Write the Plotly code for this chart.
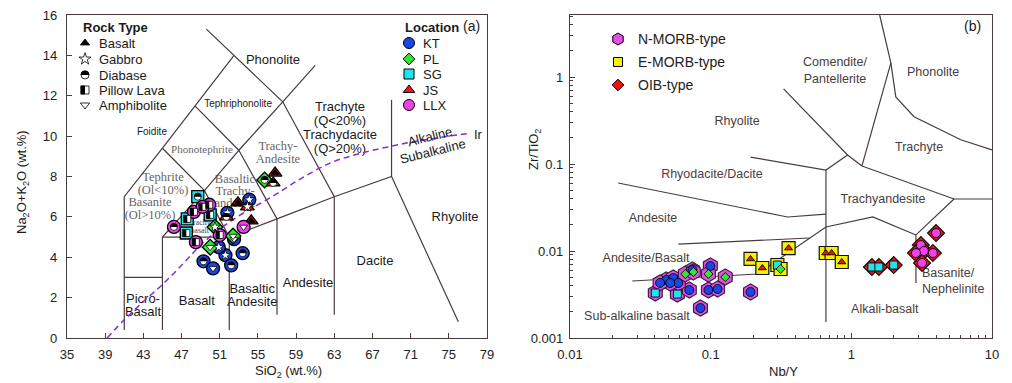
import plotly.graph_objects as go

W, H = 1012, 383
FONT = "Liberation Sans, Arial, sans-serif"
SERIF = "Liberation Serif, Times New Roman, serif"
LINE = "#4a3b3b"

# ================= (a) TAS diagram data =================
tas_loc = ["KT", "KT", "KT", "KT", "KT", "KT", "KT", "KT", "KT",
           "PL", "PL", "PL", "PL",
           "SG", "SG", "SG", "SG",
           "JS", "JS", "JS", "JS", "JS", "JS",
           "LLX", "LLX", "LLX", "LLX", "LLX", "LLX", "LLX"]
tas_sio2 = [54.1, 51.8, 52.5, 51.6, 53.4, 52.2, 49.3, 50.3, 50.9,
            55.7, 50.5, 52.4, 50.0,
            48.7, 50.0, 47.6, 47.5,
            56.8, 56.6, 52.9, 53.9, 51.7, 54.3,
            49.9, 48.3, 49.2, 46.2, 48.5, 51.0, 53.5]
tas_alk = [6.85, 6.2, 4.9, 4.1, 4.2, 3.6, 3.8, 3.45, 4.5,
           7.83, 5.5, 5.05, 4.5,
           7.0, 6.1, 5.9, 5.2,
           8.17, 7.68, 6.7, 6.5, 6.0, 5.8,
           6.6, 6.25, 6.5, 5.5, 4.75, 5.1, 5.5]
tas_rock = ["Gabbro", "Gabbro", "Amphibolite", "Gabbro", "Diabase", "Diabase", "Diabase", "Amphibolite", "Gabbro",
            "Diabase", "Gabbro", "Amphibolite", "Amphibolite",
            "Diabase", "Pillow Lava", "Pillow Lava", "Pillow Lava",
            "Basalt", "Diabase", "Basalt", "Gabbro", "Diabase", "Basalt",
            "Pillow Lava", "Pillow Lava", "Pillow Lava", "Diabase", "Pillow Lava", "Pillow Lava", "Amphibolite"]

# TAS field boundaries (SiO2, Na2O+K2O)
tas_boundaries = [
    [(41, 0.4), (41, 7), (45, 9.4), (48.4, 11.5), (52.5, 14)],
    [(49.6, 15.3), (52.5, 14), (57.6, 11.7), (63, 7), (63, 1.15)],
    [(41, 3), (45, 3)],
    [(45, 0.4), (45, 5), (49.4, 7.3), (45, 9.4)],
    [(45, 5), (52, 5), (52, 0.4)],
    [(49.4, 7.3), (52, 5), (57, 5.9), (57, 1.15)],
    [(57, 5.9), (63, 7), (69, 8), (76.0, 0.8)],
    [(48.4, 11.5), (53, 9.3), (57.6, 11.7)],
    [(49.4, 7.3), (53, 9.3), (57, 5.9)],
    [(57.6, 11.7), (61, 13.5)],
    [(69, 8), (69, 11.8)],
]
# Irvine & Baragar alkaline / subalkaline divide
ir_sio2 = [39.2, 41, 43, 45, 47, 49, 51, 53, 55, 57, 59, 61, 63, 65, 67, 69, 71, 73, 75, 77.3]
ir_alk = [0.0, 0.9, 1.8, 2.65, 3.6, 4.6, 5.4, 6.05, 6.6, 7.15, 7.75, 8.3, 8.75, 9.05, 9.3, 9.5, 9.7, 9.85, 10.0, 10.15]

# ================= (b) Winchester & Floyd data =================
wf_group = ["N-MORB-type"] * 18 + ["E-MORB-type"] * 8 + ["OIB-type"] * 9
wf_loc = ["SG", "SG", "KT", "KT", "KT", "KT", "KT", "KT", "KT", "KT", "KT", "KT", "KT", "KT",
          "PL", "PL", "PL", "PL",
          "JS", "JS", "JS", "SG", "PL", "JS", "JS", "JS",
          "SG", "SG", "SG", "LLX", "LLX", "LLX", "LLX", "LLX", "LLX"]
wf_nby = [0.0404, 0.058, 0.0705, 0.0483, 0.0542, 0.0589, 0.0516, 0.0437, 0.0741, 0.0995, 0.0964, 0.112, 0.192, 0.0846,
          0.127, 0.066, 0.0753, 0.0964,
          0.192, 0.233, 0.358, 0.298, 0.314, 0.658, 0.724, 0.855,
          1.40, 1.57, 2.00, 4.0, 3.12, 3.28, 2.88, 3.80, 3.18]
wf_zrti = [0.00329, 0.0032, 0.00356, 0.00464, 0.00489, 0.00429, 0.00429, 0.0043, 0.00605, 0.00673, 0.00356, 0.00366, 0.00338, 0.00221,
           0.00502, 0.00544, 0.00574, 0.00544,
           0.0081, 0.00638, 0.0108, 0.0069, 0.00621, 0.00948, 0.00948, 0.00747,
           0.00655, 0.00655, 0.0069, 0.0161, 0.0117, 0.0100, 0.00948, 0.00948, 0.00728]

wf_boundaries = [
    [(0.33, 0.73), (0.94, 0.127), (1.19, 0.095)],
    [(0.192, 0.120), (0.66, 0.0853), (0.94, 0.127)],
    [(1.59, 5.16), (1.91, 1.45), (2.07, 0.59), (2.79, 0.35), (6.0, 0.19), (10, 0.145)],
    [(1.91, 1.45), (1.19, 0.095)],
    [(1.19, 0.095), (5.37, 0.0396), (10, 0.0396)],
    [(5.37, 0.0396), (2.88, 0.0153), (2.88, 0.0043)],
    [(2.88, 0.0153), (1.42, 0.0246), (0.66, 0.0189), (0.215, 0.00544), (0.0277, 0.00452)],
    [(0.0589, 0.0120), (0.505, 0.0141)],
    [(0.022, 0.0605), (0.352, 0.0246), (0.66, 0.0266)],
    [(0.66, 0.0853), (0.66, 0.00153)],
]

# ================= styles =================
loc_order = ["SG", "KT", "PL", "JS", "LLX"]
loc_style = {"KT": ("circle", "#1a46e8", 13), "PL": ("diamond", "#33e633", 12),
             "SG": ("square", "#1ee6f0", 12), "JS": ("triangle-up", "#f01414", 12),
             "LLX": ("circle", "#f040f0", 13)}
loc_inner = {"KT": ("circle", "#1a46e8", 9), "PL": ("diamond", "#33e633", 7),
             "SG": ("square", "#1ee6f0", 8), "JS": ("triangle-up", "#f01414", 7),
             "LLX": ("circle", "#f040f0", 9)}
grp_style = {"N-MORB-type": ("hexagon", "#e64ee6", 16, "#3a2040"),
             "E-MORB-type": ("square", "#f7f000", 13, "#111111"),
             "OIB-type": ("diamond", "#ee1111", 13, "#111111")}
rock_style = {"Basalt": ("triangle-up", "black", "black"),
              "Gabbro": ("star", "white", "black"),
              "Diabase": ("circle", "white", "black"),
              "Pillow Lava": ("square", "white", "black"),
              "Amphibolite": ("triangle-down", "white", "black")}

fig = go.Figure()
shapes = []


def text_trace(xs, ys, texts, xa, ya, size, color, family, pos="middle center"):
    fig.add_trace(go.Scatter(x=xs, y=ys, text=texts, mode="text", textposition=pos,
                             textfont=dict(size=size, color=color, family=family),
                             xaxis=xa, yaxis=ya, hoverinfo="skip", showlegend=False,
                             cliponaxis=False))


def rock_markers(xs, ys, rocks, xa, ya, size, xref, yref):
    for rk, (sym, fill, edge) in rock_style.items():
        px = [x for x, r in zip(xs, rocks) if r == rk]
        py = [y for y, r in zip(ys, rocks) if r == rk]
        if not px:
            continue
        sz = size + 1 if rk in ("Gabbro",) else size
        fig.add_trace(go.Scatter(x=px, y=py, mode="markers", xaxis=xa, yaxis=ya,
                                 marker=dict(symbol=sym, size=sz, color=fill,
                                             line=dict(color=edge, width=0.8)),
                                 hoverinfo="skip", showlegend=False, cliponaxis=False))
        r = size / 2 + 0.4
        for x, y in zip(px, py):
            if rk == "Diabase":
                path = f"M{-r},0 C{-r},{1.333 * r} {r},{1.333 * r} {r},0 Z"
            elif rk == "Pillow Lava":
                path = f"M{-r},{-r} L0,{-r} L0,{r} L{-r},{r} Z"
            else:
                continue
            shapes.append(dict(type="path", xref=xref, yref=yref, xsizemode="pixel",
                               ysizemode="pixel", xanchor=x, yanchor=y, path=path,
                               fillcolor="black", line=dict(width=0), layer="above"))


# ---------- (a) region labels (drawn below markers) ----------
text_trace([56.58, 63.6, 63.6, 63.6, 63.6, 42.96, 42.96, 48.6, 54.4, 54.4, 60.25, 67.27, 75.65],
           [13.72, 11.39, 10.70, 10.0, 9.31, 1.88, 1.24, 1.78, 2.38, 1.73, 2.67, 3.76, 5.94],
           ["Phonolite", "Trachyte", "(Q<20%)", "Trachydacite", "(Q>20%)", "Picro-", "Basalt",
            "Basalt", "Basaltic", "Andesite", "Andesite", "Dacite", "Rhyolite"],
           "x", "y", 13, "#1a1a1a", FONT)
text_trace([52.92, 43.9], [11.59, 10.2], ["Tephriphonolite", "Foidite"], "x", "y", 10, "#1a1a1a", FONT)
text_trace([49.14], [9.31], ["Phonotephrite"], "x", "y", 11, "#666666", SERIF)
text_trace([57.1, 57.1, 45.06, 45.06, 43.7, 43.7, 52.6, 52.6, 52.6],
           [9.46, 8.82, 7.92, 7.28, 6.69, 6.04, 7.83, 7.23, 6.64],
           ["Trachy-", "Andesite", "Tephrite", "(Ol<10%)", "Basanite", "(Ol>10%)",
            "Basaltic", "Trachy-", "andesite"],
           "x", "y", 12.5, "#666666", SERIF)
text_trace([48.9, 48.9], [5.7, 5.3], ["Trachy", "basalt"], "x", "y", 8, "#444444", SERIF)

for seg in tas_boundaries:
    fig.add_trace(go.Scatter(x=[p[0] for p in seg], y=[p[1] for p in seg], mode="lines",
                             line=dict(color=LINE, width=1.2), xaxis="x", yaxis="y",
                             hoverinfo="skip", showlegend=False))
fig.add_trace(go.Scatter(x=ir_sio2, y=ir_alk, mode="lines", line=dict(color="#8a2ccf", width=1.5, dash="6px,4px"),
                         line_shape="spline", xaxis="x", yaxis="y", hoverinfo="skip", showlegend=False))

# ---------- (a) data ----------
for loc in loc_order:
    sym, col, sz = loc_style[loc]
    xs = [x for x, l in zip(tas_sio2, tas_loc) if l == loc]
    ys = [y for y, l in zip(tas_alk, tas_loc) if l == loc]
    fig.add_trace(go.Scatter(x=xs, y=ys, mode="markers", xaxis="x", yaxis="y", name=loc,
                             marker=dict(symbol=sym, size=sz, color=col, line=dict(color="black", width=1.3)),
                             showlegend=False))
rock_markers(tas_sio2, tas_alk, tas_rock, "x", "y", 7, "x", "y")

# ---------- (b) labels and boundaries ----------
text_trace([0.766, 3.81, 0.154, 3.03, 0.102, 1.68, 0.0389, 0.0347, 0.0299, 1.73],
           [1.16, 1.11, 0.304, 0.153, 0.0748, 0.0386, 0.0233, 0.0081, 0.00174, 0.0021],
           ["Comendite/<br>Pantellerite", "Phonolite", "Rhyolite", "Trachyte", "Rhyodacite/Dacite",
            "Trachyandesite", "Andesite", "Andesite/Basalt", "Sub-alkaline basalt", "Alkali-basalt"],
           "x2", "y2", 12.5, "#4a3c3c", FONT)
text_trace([3.18], [0.00445], ["Basanite/<br>Nephelinite"], "x2", "y2", 12.5, "#4a3c3c", FONT, pos="middle right")

for seg in wf_boundaries:
    fig.add_trace(go.Scatter(x=[p[0] for p in seg], y=[p[1] for p in seg], mode="lines",
                             line=dict(color=LINE, width=1.2), xaxis="x2", yaxis="y2",
                             hoverinfo="skip", showlegend=False))

for grp, (sym, col, sz, edge) in grp_style.items():
    xs = [x for x, g in zip(wf_nby, wf_group) if g == grp]
    ys = [y for y, g in zip(wf_zrti, wf_group) if g == grp]
    fig.add_trace(go.Scatter(x=xs, y=ys, mode="markers", xaxis="x2", yaxis="y2", name=grp,
                             marker=dict(symbol=sym, size=sz, color=col, line=dict(color=edge, width=1.2)),
                             showlegend=False))
for loc in loc_order:
    sym, col, sz = loc_inner[loc]
    xs = [x for x, l in zip(wf_nby, wf_loc) if l == loc]
    ys = [y for y, l in zip(wf_zrti, wf_loc) if l == loc]
    if xs:
        fig.add_trace(go.Scatter(x=xs, y=ys, mode="markers", xaxis="x2", yaxis="y2",
                                 marker=dict(symbol=sym, size=sz, color=col, line=dict(color="black", width=0.9)),
                                 showlegend=False, hoverinfo="skip"))

# ---------- legends (overlay pixel axis x3/y3) ----------
loc_names = ["KT", "PL", "SG", "JS", "LLX"]
loc_leg_y = [43, 59, 74, 90, 105]
for name, yy in zip(loc_names, loc_leg_y):
    sym, col, sz = loc_style[name]
    fig.add_trace(go.Scatter(x=[409], y=[yy], mode="markers", xaxis="x3", yaxis="y3",
                             marker=dict(symbol=sym, size=sz - 2 if sym != "diamond" else sz - 3,
                                         color=col, line=dict(color="black", width=1)),
                             showlegend=False, hoverinfo="skip"))
rock_names = ["Basalt", "Gabbro", "Diabase", "Pillow Lava", "Amphibolite"]
rock_leg_y = [43, 59, 75, 90, 105]
rock_markers([85] * 5, rock_leg_y, rock_names, "x3", "y3", 8, "x3", "y3")

grp_names = ["N-MORB-type", "E-MORB-type", "OIB-type"]
grp_leg_y = [39, 62, 85]
for name, yy in zip(grp_names, grp_leg_y):
    sym, col, sz, edge = grp_style[name]
    fig.add_trace(go.Scatter(x=[618], y=[yy], mode="markers", xaxis="x3", yaxis="y3",
                             marker=dict(symbol=sym, size=sz - 4, color=col, line=dict(color="black", width=1)),
                             showlegend=False, hoverinfo="skip"))

ann = []


def A(x, y, text, size=13, color="#1a1a1a", xanchor="center", angle=0, family=FONT):
    ann.append(dict(x=x, y=y, xref="x3", yref="y3", text=text, showarrow=False,
                    xanchor=xanchor, yanchor="middle", textangle=angle,
                    font=dict(size=size, color=color, family=family)))


A(115, 27, "<b>Rock Type</b>", 13)
for name, yy in zip(rock_names, rock_leg_y):
    A(97, yy, name, 13, xanchor="left")
A(403, 27, "<b>Location</b>", 13, xanchor="left")
for name, yy in zip(loc_names, loc_leg_y):
    A(421, yy, name, 13, xanchor="left")
A(471, 26, "(a)", 14)
A(430, 136, "Alkaline", 13, angle=-14)
A(432, 151, "Subalkaline", 13, angle=-14)
A(478, 134, "Ir", 13)
for name, yy in zip(grp_names, grp_leg_y):
    A(636, yy, name, 14, color="#222222", xanchor="left")
A(972, 26, "(b)", 14)
# axis titles
A(288, 371, "SiO<sub>2</sub> (wt.%)", 13)
A(22, 182, "Na<sub>2</sub>O+K<sub>2</sub>O (wt.%)", 13, angle=-90)
A(783, 371, "Nb/Y", 13)
A(534, 150, "Zr/TiO<sub>2</sub>", 13, angle=-90)

minor_x = [m * 10 ** e for e in (-2, -1, 0) for m in range(2, 10)]
minor_y = [m * 10 ** e for e in (-3, -2, -1, 0) for m in range(2, 10)]

axis_common = dict(showline=True, linecolor=LINE, linewidth=1.3, mirror=True, showgrid=False,
                   zeroline=False, ticks="inside", tickcolor=LINE, ticklen=5, tickwidth=1.1,
                   automargin=False,
                   tickfont=dict(size=13, color="#222222", family=FONT))

fig.update_layout(
    template="none",
    width=W, height=H, margin=dict(l=0, r=0, t=0, b=0, pad=0, autoexpand=False),
    paper_bgcolor="white", plot_bgcolor="rgba(0,0,0,0)", showlegend=False,
    xaxis=dict(domain=[67 / W, 487 / W], range=[35, 79], tickvals=list(range(35, 80, 4)),
               anchor="y", ticklabelstandoff=4, **axis_common),
    yaxis=dict(domain=[1 - 338 / H, 1 - 15 / H], range=[0, 16], tickvals=list(range(0, 17, 2)),
               anchor="x", ticklabelstandoff=6, **axis_common),
    xaxis2=dict(domain=[570 / W, 992 / W], type="log", range=[-2, 1], tickvals=[0.01, 0.1, 1, 10],
                ticktext=["0.01", "0.1", "1", "10"], anchor="y2", ticklabelstandoff=4,
                minor=dict(tickvals=minor_x, ticks="inside", ticklen=3, tickcolor=LINE), **axis_common),
    yaxis2=dict(domain=[1 - 338 / H, 1 - 15 / H], type="log", range=[-3, -3 + 323 / 87],
                tickvals=[0.001, 0.01, 0.1, 1], ticktext=["0.001", "0.01", "0.1", "1"], anchor="x2",
                ticklabelstandoff=3,
                minor=dict(tickvals=minor_y, ticks="inside", ticklen=3, tickcolor=LINE), **axis_common),
    xaxis3=dict(domain=[0, 1], range=[0, W], visible=False, fixedrange=True, anchor="y3", automargin=False),
    yaxis3=dict(domain=[0, 1], range=[H, 0], visible=False, fixedrange=True, anchor="x3", automargin=False),
    shapes=shapes, annotations=ann,
)

fig.write_html("out.html", config={"displayModeBar": False},
               post_script="document.body.style.margin='0';document.body.style.overflow='hidden';")
